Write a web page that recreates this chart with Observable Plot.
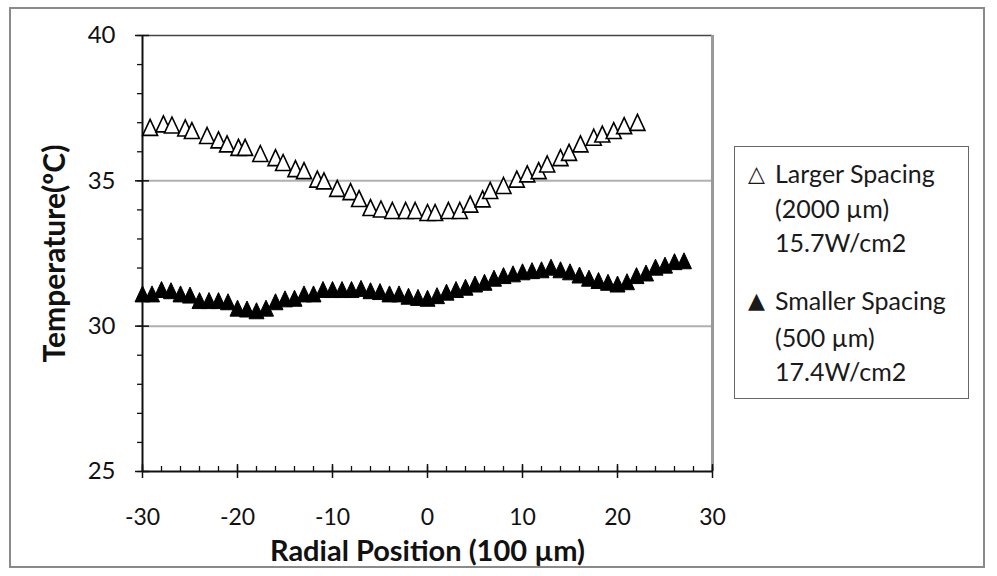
<!DOCTYPE html>
<html><head><meta charset="utf-8">
<script src="https://cdn.jsdelivr.net/npm/d3@7"></script>
<script src="https://cdn.jsdelivr.net/npm/@observablehq/plot@0.6"></script>
<style>
body{margin:0;background:#fff;font-family:Lato,sans-serif;}
#wrap{position:relative;width:997px;height:576px;overflow:hidden}
#border{position:absolute;left:9px;top:7px;width:976px;height:561px;border:2px solid #8a8a8a;box-sizing:border-box}
#chart{position:absolute;left:0;top:0}
#legend{position:absolute;left:734px;top:146px;width:235px;height:253px;border:1.5px solid #666;box-sizing:border-box;font-size:25px;color:#1a1a1a}
.l{position:absolute;left:40px;white-space:nowrap;line-height:28px}
.s{position:absolute;left:13px;line-height:28px;font-family:"DejaVu Sans";font-size:22px}
</style></head>
<body>
<div id="wrap">
<div id="border"></div>
<div id="chart"></div>
<div id="legend"></div>
</div>
<script>
// Larger Spacing (2000 µm), 15.7 W/cm2 — open triangles
const largerX = [-29.2,-27.8,-26.9,-25.5,-24.8,-23.2,-22.0,-21.1,-19.9,-19.2,-17.6,-16.0,-15.2,-13.9,-13.0,-11.6,-10.9,-9.5,-8.1,-7.2,-6.0,-4.9,-3.7,-2.3,-1.3,0.0,0.8,2.2,3.4,4.5,5.8,6.6,8.0,9.4,10.5,11.7,12.6,14.0,14.9,16.1,17.5,18.4,19.6,20.7,22.1];
const largerT = [36.84,36.96,36.92,36.82,36.73,36.56,36.41,36.27,36.15,36.15,35.94,35.80,35.63,35.42,35.35,35.06,35.00,34.74,34.63,34.39,34.08,34.03,33.98,33.98,33.98,33.91,33.91,33.98,33.98,34.20,34.38,34.67,34.84,35.06,35.24,35.35,35.58,35.80,35.98,36.27,36.50,36.61,36.73,36.90,37.01];
// Smaller Spacing (500 µm), 17.4 W/cm2 — filled triangles
const smallerX = [-30,-29,-28,-27,-26,-25,-24,-23,-22,-21,-20,-19,-18,-17,-16,-15,-14,-13,-12,-11,-10,-9,-8,-7,-6,-5,-4,-3,-2,-1,0,1,2,3,4,5,6,7,8,9,10,11,12,13,14,15,16,17,18,19,20,21,22,23,24,25,26,27];
const smallerT = [31.11,31.11,31.26,31.22,31.11,31.07,30.88,30.88,30.88,30.84,30.62,30.59,30.53,30.62,30.84,30.94,30.96,31.11,31.11,31.26,31.26,31.26,31.26,31.30,31.22,31.19,31.11,31.11,31.03,30.99,30.96,31.05,31.17,31.26,31.34,31.45,31.51,31.65,31.74,31.80,31.87,31.91,31.94,32.03,31.94,31.87,31.76,31.65,31.57,31.51,31.45,31.53,31.74,31.83,32.03,32.10,32.22,32.25];

const xMajor = [-30,-20,-10,0,10,20,30];
const xMinor = [-30,-28,-26,-24,-22,-20,-18,-16,-14,-12,-10,-8,-6,-4,-2,0,2,4,6,8,10,12,14,16,18,20,22,24,26,28,30];
const yMajor = [25,30,35,40];
const yMinor = [25,26,27,28,29,30,31,32,33,34,35,36,37,38,39,40];
const yGrid = [30,35];
const xTitle = "Radial Position (100 µm)";
const yTitle = "Temperature(ºC)";
const legendLines = [
  {sym:"△", text:"Larger Spacing"},
  {sym:"", text:"(2000 µm)"},
  {sym:"", text:"15.7W/cm2"},
  {sym:"▲", text:"Smaller Spacing"},
  {sym:"", text:"(500 µm)"},
  {sym:"", text:"17.4W/cm2"}
];

const larger = largerX.map((x,i)=>({x, t: largerT[i]}));
const smaller = smallerX.map((x,i)=>({x, t: smallerT[i]}));

// spreadsheet-style triangle marker, centred on its bounding box
const tri = {draw(ctx) { ctx.moveTo(0, -8); ctx.lineTo(7.5, 8); ctx.lineTo(-7.5, 8); ctx.closePath(); }};
const fmt = d => String(d);

const plot = Plot.plot({
  width: 997, height: 576,
  marginLeft: 142, marginRight: 285, marginTop: 35, marginBottom: 105,
  style: {fontFamily: "Lato, sans-serif", background: "transparent", color: "#111"},
  x: {domain: [-30, 30], label: null},
  y: {domain: [25, 40], label: null},
  marks: [
    Plot.gridY(yGrid, {stroke: "#b0b0b0", strokeWidth: 2, strokeOpacity: 1}),
    Plot.ruleY([40], {stroke: "#444", strokeWidth: 1.5}),
    Plot.ruleX([30], {stroke: "#999", strokeWidth: 3}),
    Plot.axisY({ticks: yMinor, tickSize: 5, text: null, label: null, strokeWidth: 1.3}),
    Plot.axisY({ticks: yMajor, tickSize: 7, tickPadding: 20, fontSize: 24, tickFormat: fmt, label: null, strokeWidth: 1.5}),
    Plot.axisY({ticks: yMajor, tickSize: -7, text: null, label: null, strokeWidth: 1.5}),
    Plot.axisX({ticks: xMinor, tickSize: -5, text: null, label: null, strokeWidth: 1.3}),
    Plot.axisX({ticks: xMajor, tickSize: 7, tickPadding: 30, fontSize: 23, tickFormat: fmt, label: null, strokeWidth: 1.5}),
    Plot.axisX({ticks: xMajor, tickSize: -7, text: null, label: null, strokeWidth: 1.5}),
    Plot.ruleX([-30], {stroke: "#111", strokeWidth: 2}),
    Plot.ruleY([25], {stroke: "#111", strokeWidth: 2}),
    Plot.dot(smaller, {x: "x", y: "t", symbol: tri, fill: "#000", stroke: "#000", strokeWidth: 1}),
    Plot.dot(larger, {x: "x", y: "t", symbol: tri, fill: "#fff", stroke: "#000", strokeWidth: 1.6}),
    Plot.text([xTitle], {frameAnchor: "bottom", lineAnchor: "middle", textAnchor: "middle", dy: 80, fontSize: 29, fontWeight: "bold", fill: "#111"}),
    Plot.text([yTitle], {frameAnchor: "left", lineAnchor: "middle", textAnchor: "middle", rotate: -90, dx: -87, fontSize: 30, fontWeight: "bold", fill: "#111"})
  ]
});
document.getElementById("chart").appendChild(plot);

const centers = [26, 61, 95, 153, 190, 224];
const leg = document.getElementById("legend");
legendLines.forEach((d, i) => {
  if (d.sym) {
    const s = document.createElement("div");
    s.className = "s"; s.style.top = (centers[i] - 13) + "px"; s.textContent = d.sym;
    leg.appendChild(s);
  }
  const t = document.createElement("div");
  t.className = "l"; t.style.top = (centers[i] - 14) + "px"; t.textContent = d.text;
  leg.appendChild(t);
});
</script>
</body></html>
